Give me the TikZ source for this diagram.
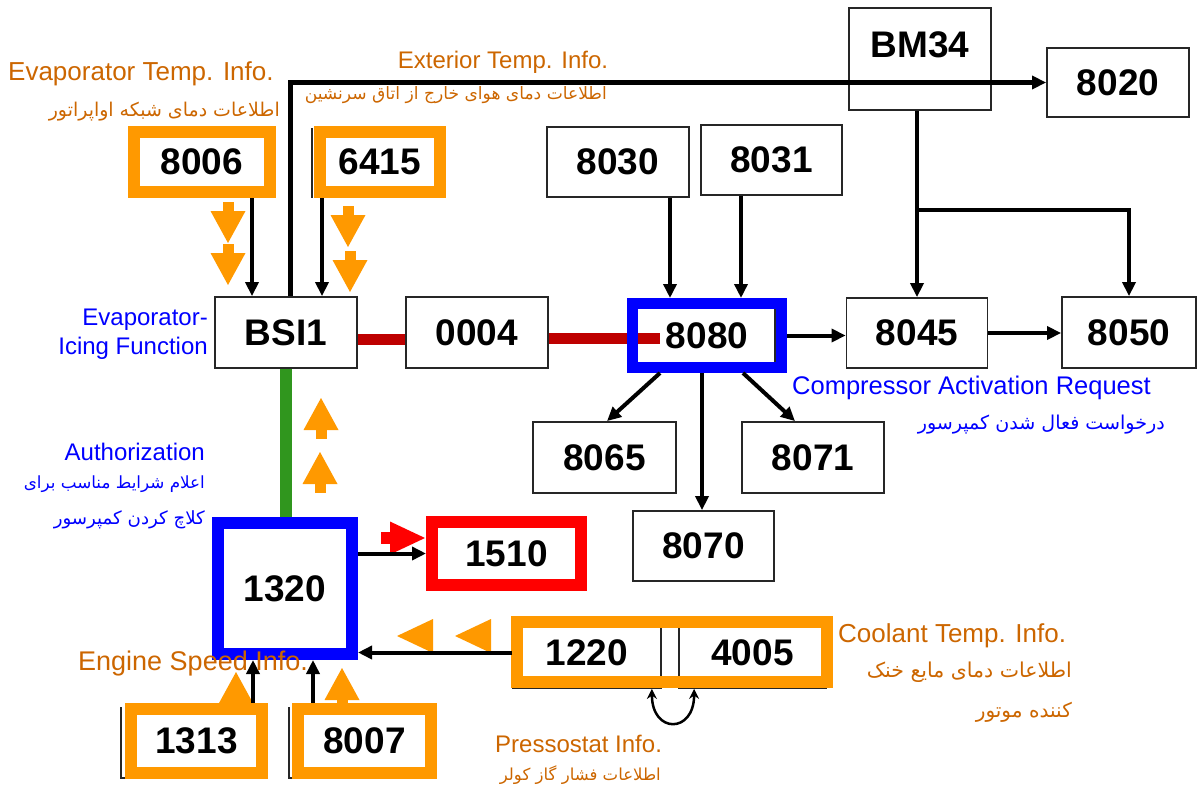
\documentclass[tikz,border=0pt]{standalone}
\usepackage{graphicx}
\usepackage{fontspec}
\setmainfont{Liberation Sans}
\newfontfamily\fa[Script=Arabic]{DejaVu Sans}
\TeXXeTstate=1
\usetikzlibrary{arrows.meta}
\definecolor{oran}{RGB}{255,153,0}
\definecolor{txtor}{RGB}{204,102,0}
\definecolor{dred}{RGB}{190,0,0}
\definecolor{grn}{RGB}{48,150,30}
\definecolor{pblue}{RGB}{0,0,255}
\definecolor{pred}{RGB}{255,0,0}
\newcommand\faw[2]{\resizebox{#1pt}{!}{\fa #2}}
\begin{document}
\begin{tikzpicture}[x=1pt,y=-1pt,
  box/.style={draw=black!85, line width=1.8pt, inner sep=0pt, font=\fontsize{37}{40}\selectfont\bfseries},
  sz/.style 2 args={minimum width=#1pt, minimum height=#2pt},
  ofr/.style={box, draw=oran, line width=12pt},
  bfr/.style={box, draw=pblue, line width=#1},
  rfr/.style={box, draw=pred, line width=12pt},
  arr/.style={line width=4pt, -{Triangle[length=14pt,width=13pt]}},
  enl/.style={inner sep=0pt, font=\fontsize{25}{29}\selectfont},
  fal/.style={inner sep=0pt, font=\fontsize{18}{20}\fa},
  odn/.pic={\fill[oran] (0,0) -- (-17.5,-32) -- (17.5,-32) -- cycle;
            \fill[oran] (-5.5,-31.5) rectangle (5.5,-41);},
  rdn/.pic={\fill[pred] (0,0) -- (-16.5,-35) -- (16.5,-35) -- cycle;
            \fill[pred] (-6,-34.5) rectangle (6,-44);}
]
\path[use as bounding box] (0,0) rectangle (1198,789);

% ---- partially visible underlying black boxes
\draw[black!85, line width=1.8pt] (312,128) -- (312,198);
\draw[black!85, line width=1.8pt] (775,303) -- (775,368);
\draw[black!85, line width=1.8pt] (121,707) -- (121,778) -- (127,778);
\draw[black!85, line width=1.8pt] (289,707) -- (289,778) -- (295,778);

% ---- modules
\node[box, sz={142}{71}] (bsi)   at (286,332.5) {BSI1};
\node[box, sz={142}{71}] (n0004) at (477,332.5) {0004};
\node[box, sz={142}{70}] (n8030) at (618,162) {8030};
\node[box, sz={141}{70}] (n8031) at (771.5,160) {8031};
\node[box, sz={142}{102}, text depth=28pt] (bm34) at (920,59) {BM34};
\node[box, sz={142}{69}] (n8020) at (1118,82.5) {8020};
\node[box, sz={141}{70}] (n8045) at (917,333) {8045};
\node[box, sz={134}{71}] (n8050) at (1129,332.5) {8050};
\node[box, sz={143}{71}] (n8065) at (604.5,457.5) {8065};
\node[box, sz={142}{71}] (n8071) at (813,457.5) {8071};
\node[box, sz={141}{70}] (n8070) at (703.5,546) {8070};
\node[box, sz={148}{71}] (n1220) at (587,652.5) {1220};
\node[box, sz={147}{71}] (n4005) at (752.5,652.5) {4005};

% ---- red and green links
\coordinate (r1) at (0,339);
\coordinate (r2) at (0,338);
\draw[dred, line width=11pt] (bsi.east |- r1) -- (n0004.west |- r1);
\draw[dred, line width=11pt] (n0004.east |- r2) -- (660,338);
\draw[grn, line width=12pt] (bsi.south) -- (286,517);

% ---- framed modules
\node[ofr, sz={136}{60}] (n8006) at (202,162) {8006};
\node[ofr, sz={120}{60}] (n6415) at (380,162) {6415};
\node[bfr=11pt, sz={149}{64}] (n8080) at (707,335.5) {8080};
\node[bfr=12pt, sz={134}{131}] (n1320) at (285,588.5) {1320};
\node[rfr, sz={149}{63}] (n1510) at (506.5,553.5) {1510};
\node[ofr, sz={131}{64}] (n1313) at (196.5,741) {1313};
\node[ofr, sz={133}{64}] (n8007) at (364.5,741) {8007};
\draw[oran, line width=12pt] (517,622) rectangle (827,682);

% ---- orange / red block arrows
\pic at (228,243) {odn};
\pic at (228,285) {odn};
\pic at (348,247) {odn};
\pic at (350,292) {odn};
\pic[rotate=180] at (321,398) {odn};
\pic[rotate=180] at (320,452) {odn};
\pic[rotate=180] at (236,672) {odn};
\pic[rotate=180] at (342,668) {odn};
\pic[rotate=90] at (425,538) {rdn};
\fill[oran] (397,636) -- (433,619) -- (433,653) -- cycle;
\fill[oran] (455,636) -- (491,619) -- (491,653) -- cycle;

% ---- black connectors
\coordinate (c1) at ([xshift=50pt]n8006.south);
\coordinate (c2) at ([xshift=-58pt]n6415.south);
\coordinate (c3) at ([xshift=4pt]bsi.north);
\coordinate (c4) at ([xshift=52pt]n8030.south);
\coordinate (c5) at ([xshift=-30.5pt]n8031.south);
\coordinate (c6) at ([xshift=-47pt]n8080.south);
\coordinate (c6b) at ([xshift=2.5pt]n8065.north);
\coordinate (c7) at ([xshift=36pt]n8080.south);
\coordinate (c7b) at ([xshift=-18pt]n8071.north);
\coordinate (c8) at ([xshift=-5pt]n8080.south);
\coordinate (c9) at ([xshift=56.5pt]n1313.north);
\coordinate (c10) at ([xshift=-51.5pt]n8007.north);
\coordinate (j) at (917,210);

\draw[arr] (c1) -- (c1 |- bsi.north);
\draw[arr] (c2) -- (c2 |- bsi.north);
\draw[arr, line width=5pt] (c3) |- (n8020.west);
\draw[arr] (c4) -- (c4 |- n8080.north);
\draw[arr] (c5) -- (c5 |- n8080.north);
\draw[arr] (n8080.east) -- (n8080.east -| n8045.west);
\draw[arr] (n8045.east) -- (n8045.east -| n8050.west);
\draw[arr] (bm34.south -| n8045.north) -- (n8045.north);
\draw[arr] (j) -| (n8050.north);
\draw[arr] (c6) -- (c6b);
\draw[arr] (c7) -- (c7b);
\draw[arr] (c8) -- (c8 |- n8070.north);
\draw[arr] (n1510.west -| n1320.east) -- (n1510.west);
\draw[arr] (n1220.west) -- (n1220.west -| n1320.east);
\draw[arr] (c9) -- (c9 |- n1320.south);
\draw[arr] (c10) -- (c10 |- n1320.south);
\coordinate (p1) at ([xshift=-10pt]n1220.south east);
\coordinate (p2) at ([xshift=16pt]n4005.south west);
\draw[line width=2.5pt, {Stealth[length=10pt,width=10pt]}-{Stealth[length=10pt,width=10pt]}]
  (p1) .. controls +(0,45) and +(0,45) .. (p2);

% ---- labels
\node[enl, text=txtor, anchor=west, font=\fontsize{26}{29}\selectfont] (tevap) at (8,74) {Evaporator Temp. Info.};
\node[fal, text=txtor, anchor=east] (tevapfa) at (280,112) {\faw{231}{\beginR اطلاعات دمای شبکه اواپراتور\endR}};
\node[enl, text=txtor, font=\fontsize{24}{29}\selectfont] (text) at (503,62) {Exterior Temp. Info.};
\node[fal, text=txtor, anchor=east] (textfa) at (607,95) {\faw{302}{\beginR اطلاعات دمای هوای خارج از اتاق سرنشین\endR}};
\node[enl, text=pblue, anchor=east, align=right, font=\fontsize{24}{29}\selectfont] (ticing) at (208,334) {Evaporator-\\Icing Function};
\node[enl, text=pblue, anchor=east, font=\fontsize{24}{29}\selectfont] (tauth) at (205,452) {Authorization};
\node[fal, text=pblue, anchor=east] (tauthfa1) at (205,484) {\faw{181}{\beginR اعلام شرایط مناسب برای\endR}};
\node[fal, text=pblue, anchor=east] (tauthfa2) at (205,520) {\faw{151}{\beginR کلاچ کردن کمپرسور\endR}};
\node[enl, text=pblue, anchor=west, font=\fontsize{25.5}{29}\selectfont] (tcomp) at (792,388) {Compressor Activation Request};
\node[fal, text=pblue, anchor=east] (tcompfa) at (1165,425) {\faw{247}{\beginR درخواست فعال شدن کمپرسور\endR}};
\node[enl, text=txtor, anchor=west, font=\fontsize{26}{29}\selectfont] (tcool) at (838,636) {Coolant Temp. Info.};
\node[fal, text=txtor, anchor=east] (tcoolfa1) at (1072,672) {\faw{205}{\beginR اطلاعات دمای مایع خنک\endR}};
\node[fal, text=txtor, anchor=east] (tcoolfa2) at (1072,712) {\faw{96}{\beginR کننده موتور\endR}};
\node[enl, text=txtor, anchor=west, font=\fontsize{24}{29}\selectfont] (tpress) at (495,744) {Pressostat Info.};
\node[fal, text=txtor, anchor=east] (tpressfa) at (661,775) {\faw{161}{\beginR اطلاعات فشار گاز کولر\endR}};
\node[enl, text=txtor, anchor=west, font=\fontsize{27}{29}\selectfont] (teng) at (78,664) {Engine Speed Info.};
\end{tikzpicture}
\end{document}
